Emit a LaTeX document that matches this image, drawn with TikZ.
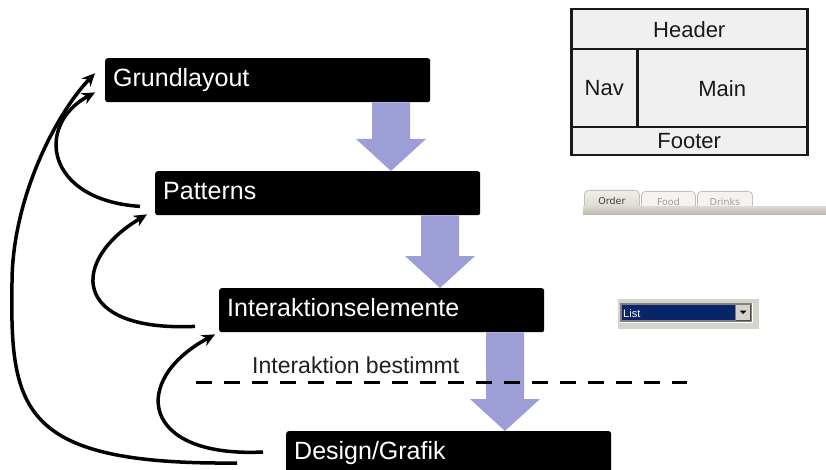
\documentclass[tikz,border=0pt]{standalone}
\usepackage{fontspec}
\setmainfont{Liberation Sans}
\newfontfamily\uifont{DejaVu Sans}
\usetikzlibrary{arrows.meta,calc}

\definecolor{flowblue}{RGB}{158,158,214}
\definecolor{panelgray}{RGB}{240,240,240}
\definecolor{tabstrip}{RGB}{201,197,186}
\definecolor{tabactive}{RGB}{216,213,204}
\definecolor{tabidle}{RGB}{244,243,239}
\definecolor{tabedge}{RGB}{196,192,182}
\definecolor{winface}{RGB}{214,211,205}
\definecolor{listblue}{RGB}{10,36,106}

% block arrow from a start point (shaft top) down to a tip point
\newcommand\flowarrow[2]{%
  \fill[flowblue] ($(#1)+(-19,0)$) -- ($(#2)+(-19,-32)$) -- ($(#2)+(-35,-32)$)
    -- (#2) -- ($(#2)+(35,-32)$) -- ($(#2)+(19,-32)$) -- ($(#1)+(19,0)$) -- cycle;}

\begin{document}
\begin{tikzpicture}[x=1pt,y=-1pt,
  stage/.style={fill=black, rounded corners=2.5pt, text=white, anchor=north west,
    minimum height=44pt, text width=309pt, inner xsep=8pt, inner ysep=0pt,
    align=left, text height=18pt, text depth=5pt,
    font=\fontsize{25}{30}\selectfont},
  feedback/.style={line width=3.5pt, -{Stealth[length=13pt,width=12pt]}},
  region/.style={draw=black!90, fill=panelgray, line width=2.5pt, anchor=north west,
    inner sep=0pt, text=black!90, font=\fontsize{22}{26}\selectfont},
  tab/.style={rounded corners=4pt, anchor=north west, inner sep=0pt,
    minimum height=21pt, draw=tabedge, line width=0.8pt,
    font=\uifont\fontsize{9.5}{11}\selectfont},
  divider/.style={line width=3pt, dash pattern=on 16pt off 12pt}
]
\useasboundingbox (0,0) rectangle (826,470);
\clip (0,0) rectangle (826,470);

% process stages
\node[stage] (grund) at (105,58) {Grundlayout};
\node[stage] (pat) at (155,171) {Patterns};
\node[stage] (inter) at (219,288) {Interaktionselemente};
\node[stage] (dg) at (286,431) {Design/Grafik};

% forward flow between the stages
\coordinate (f1s) at ($(grund.south west)+(286,0)$);
\coordinate (f1t) at ($(pat.north west)+(236,0)$);
\coordinate (f2s) at ($(pat.south west)+(285,0)$);
\coordinate (f2t) at ($(inter.north west)+(221,0)$);
\coordinate (f3s) at ($(inter.south west)+(286,0)$);
\coordinate (f3t) at ($(dg.north west)+(219,0)$);
\flowarrow{f1s}{f1t}
\flowarrow{f2s}{f2t}
\flowarrow{f3s}{f3t}

% feedback loops back to earlier stages
\coordinate (b1s) at ($(pat.south west)+(-15,-9)$);
\coordinate (b1e) at ($(grund.south west)+(-10,-10)$);
\coordinate (b2s) at ($(inter.south west)+(-24,-6)$);
\coordinate (b2e) at ($(pat.south west)+(-8,-1)$);
\coordinate (b3s) at ($(dg.north west)+(-23,21)$);
\coordinate (b3e) at ($(inter.south west)+(-4,2)$);
\coordinate (b4s) at ($(dg.north west)+(-49,32)$);
\coordinate (b4e) at ($(grund.west)+(-10,-7)$);
\draw[feedback] (b1s) .. controls (45,200) and (35,125) .. (b1e);
\draw[feedback] (b2s) .. controls (70,332) and (70,260) .. (b2e);
\draw[feedback] (b3s) .. controls (140,458) and (130,380) .. (b3e);
\draw[feedback] (b4s) .. controls (20,465) and (10,410) .. (12,283)
  .. controls (12,200) and (55,115) .. (b4e);

% boundary: interaction fixed
\draw[divider] (196,382) -- (687,382);
\node[anchor=base west, inner sep=0pt, text=black!88,
  font=\fontsize{23}{28}\selectfont] (fixed) at (252,373) {Interaktion bestimmt};

% page layout sketch
\node[region, minimum width=236pt, minimum height=40pt] (header) at (570,8) {Header};
\node[region, minimum width=66pt, minimum height=78pt] (nav) at (570,48) {Nav};
\node[region, minimum width=170pt, minimum height=78pt] (main) at (636,48) {Main};
\node[region, minimum width=236pt, minimum height=28pt] (footer) at (570,126) {Footer};

% tab bar
\node[tab, top color=white!60!tabactive, bottom color=tabactive, minimum width=55pt,
  text=black!75] (order) at (584,190) {Order};
\node[tab, fill=tabidle, minimum width=54pt, text=black!38] (food) at (641,191) {Food};
\node[tab, fill=tabidle, minimum width=55pt, text=black!38] (drinks) at (697,191) {Drinks};
\shade[top color=tabactive, bottom color=tabstrip!92!black] (583,207) rectangle (826,215);

% drop-down list
\fill[winface] (618,299) rectangle (759,329);
\fill[white] (620,303) rectangle (753,323);
\fill[black!50] (620,303) rectangle (752,322);
\fill[listblue] (622,305) rectangle (735,320);
\fill[black!70] (736,305) rectangle (751,321);
\fill[winface] (736,305) rectangle (750,320);
\fill[black] (739.5,310.5) -- (746.5,310.5) -- (743,314) -- cycle;
\node[anchor=base west, inner sep=0pt, text=white,
  font=\fontsize{11}{13}\selectfont] (listfield) at (623,317) {List};
\end{tikzpicture}
\end{document}
